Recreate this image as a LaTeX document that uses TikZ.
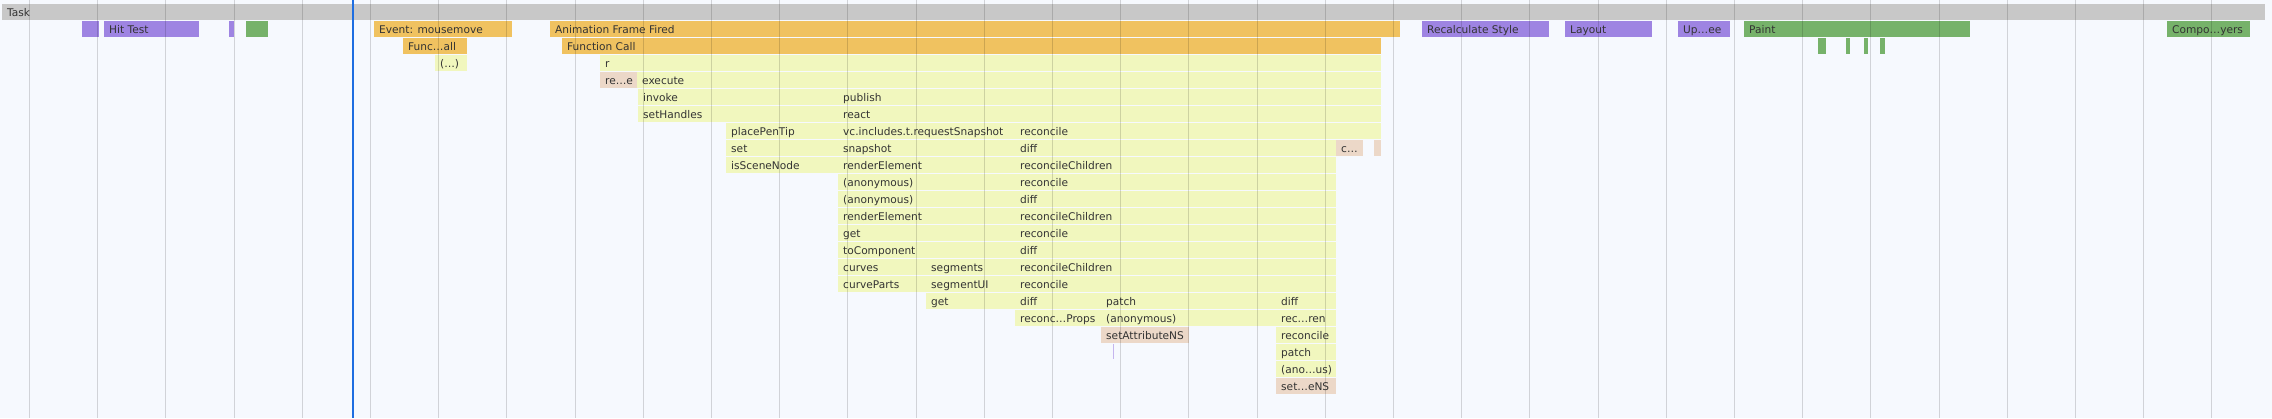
\documentclass[tikz,border=0pt]{standalone}
\usepackage{fontspec}
\setmainfont{DejaVu Sans}
\definecolor{chartbg}{RGB}{246,249,254}
\definecolor{taskgray}{RGB}{200,200,200}
\definecolor{renderpurple}{RGB}{158,132,226}
\definecolor{paintgreen}{RGB}{118,178,106}
\definecolor{scriptorange}{RGB}{240,194,96}
\definecolor{jsyellow}{RGB}{241,247,190}
\definecolor{nativepink}{RGB}{236,216,200}
\definecolor{cursorblue}{RGB}{30,110,225}
\definecolor{labelgray}{RGB}{51,51,51}
\begin{document}
\begin{tikzpicture}[x=1pt, y=-1pt,
    taskbar/.style={fill=taskgray},
    purplebar/.style={fill=renderpurple},
    greenbar/.style={fill=paintgreen},
    orangebar/.style={fill=scriptorange},
    jsbar/.style={fill=jsyellow},
    pinkbar/.style={fill=nativepink},
    lbl/.style={anchor=base west, inner sep=0pt, text=labelgray, font=\fontsize{10.6}{12}\selectfont}]
    \useasboundingbox (0,0) rectangle (2272,418);
    \fill[chartbg] (0,0) rectangle (2272,418);

    % Task row
    \fill[taskbar] (2,4) rectangle (2265,20);
    \node[lbl] (task) at (7,16) {Task};

    % Row 1 - events, style, layout, paint
    \fill[purplebar] (82,21) rectangle (99,37);
    \fill[purplebar] (104,21) rectangle (199,37);
    \node[lbl] (hittest) at (109,33) {Hit Test};
    \fill[purplebar] (229,21) rectangle (234,37);
    \fill[greenbar] (246,21) rectangle (268,37);
    \fill[orangebar] (374,21) rectangle (512,37);
    \node[lbl] (evmove) at (379,33) {Event: mousemove};
    \fill[orangebar] (550,21) rectangle (1400,37);
    \node[lbl] (aff) at (555,33) {Animation Frame Fired};
    \fill[purplebar] (1422,21) rectangle (1549,37);
    \node[lbl] (recalc) at (1427,33) {Recalculate Style};
    \fill[purplebar] (1565,21) rectangle (1652,37);
    \node[lbl] (layout) at (1570,33) {Layout};
    \fill[purplebar] (1678,21) rectangle (1730,37);
    \node[lbl] (uptree) at (1683,33) {Up…ee};
    \fill[greenbar] (1744,21) rectangle (1970,37);
    \node[lbl] (paint) at (1749,33) {Paint};
    \fill[greenbar] (2167,21) rectangle (2250,37);
    \node[lbl] (compo) at (2172,33) {Compo…yers};

    % Row 2
    \fill[orangebar] (403,38) rectangle (467,54);
    \node[lbl] (funcall) at (408,50) {Func…all};
    \fill[orangebar] (562,38) rectangle (1381,54);
    \node[lbl] (fcall) at (567,50) {Function Call};
    \fill[greenbar] (1818,38) rectangle (1825.5,54);
    \fill[greenbar] (1846,38) rectangle (1850,54);
    \fill[greenbar] (1864,38) rectangle (1868,54);
    \fill[greenbar] (1880,38) rectangle (1885,54);

    % Rows 3 to 6
    \fill[jsbar] (435,55) rectangle (467,71);
    \node[lbl] (dots) at (440,67) {(…)};
    \fill[jsbar] (600,55) rectangle (1381,71);
    \node[lbl] (r) at (605,67) {r};
    \fill[pinkbar] (600,72) rectangle (637,88);
    \node[lbl] (ree) at (605,84) {re…e};
    \fill[jsbar] (637,72) rectangle (1381,88);
    \node[lbl] (execute) at (642,84) {execute};
    \fill[jsbar] (638,89) rectangle (1381,105);
    \node[lbl] (invoke) at (643,101) {invoke};
    \node[lbl] (publish) at (843,101) {publish};
    \fill[jsbar] (638,106) rectangle (1381,122);
    \node[lbl] (sethandles) at (643,118) {setHandles};
    \node[lbl] (react) at (843,118) {react};

    % Rows 7 to 9
    \fill[jsbar] (726,123) rectangle (1381,139);
    \node[lbl] (placepentip) at (731,135) {placePenTip};
    \node[lbl] (vcincludes) at (843,135) {vc.includes.t.requestSnapshot};
    \node[lbl] (reconcileA) at (1020,135) {reconcile};
    \fill[jsbar] (726,140) rectangle (1336,156);
    \node[lbl] (set) at (731,152) {set};
    \node[lbl] (snapshot) at (843,152) {snapshot};
    \node[lbl] (diffA) at (1020,152) {diff};
    \fill[pinkbar] (1336,140) rectangle (1363,156);
    \node[lbl] (cdots) at (1341,152) {c…};
    \fill[pinkbar] (1374,140) rectangle (1381,156);
    \fill[jsbar] (726,157) rectangle (1336,173);
    \node[lbl] (isscenenode) at (731,169) {isSceneNode};
    \node[lbl] (renderelA) at (843,169) {renderElement};
    \node[lbl] (reconchA) at (1020,169) {reconcileChildren};

    % Rows 10 to 16
    \fill[jsbar] (838,174) rectangle (1336,292);
    \node[lbl] (anonA) at (843,186) {(anonymous)};
    \node[lbl] (reconcileB) at (1020,186) {reconcile};
    \node[lbl] (anonB) at (843,203) {(anonymous)};
    \node[lbl] (diffB) at (1020,203) {diff};
    \node[lbl] (renderelB) at (843,220) {renderElement};
    \node[lbl] (reconchB) at (1020,220) {reconcileChildren};
    \node[lbl] (getA) at (843,237) {get};
    \node[lbl] (reconcileC) at (1020,237) {reconcile};
    \node[lbl] (tocomponent) at (843,254) {toComponent};
    \node[lbl] (diffC) at (1020,254) {diff};
    \node[lbl] (curves) at (843,271) {curves};
    \node[lbl] (segments) at (931,271) {segments};
    \node[lbl] (reconchC) at (1020,271) {reconcileChildren};
    \node[lbl] (curveparts) at (843,288) {curveParts};
    \node[lbl] (segmentui) at (931,288) {segmentUI};
    \node[lbl] (reconcileD) at (1020,288) {reconcile};
    \foreach \rowtop in {190,207,224,241,258,275}
        \fill[chartbg] (838,\rowtop) rectangle (1336,\rowtop+1);

    % Rows 17 to 22
    \fill[jsbar] (926,293) rectangle (1336,309);
    \node[lbl] (getB) at (931,305) {get};
    \node[lbl] (diffD) at (1020,305) {diff};
    \node[lbl] (patchA) at (1106,305) {patch};
    \node[lbl] (diffE) at (1281,305) {diff};
    \fill[jsbar] (1015,310) rectangle (1336,326);
    \node[lbl] (reconprops) at (1020,322) {reconc…Props};
    \node[lbl] (anonC) at (1106,322) {(anonymous)};
    \node[lbl] (recren) at (1281,322) {rec…ren};
    \fill[pinkbar] (1101,327) rectangle (1189,343);
    \node[lbl] (setattr) at (1106,339) {setAttributeNS};
    \draw[renderpurple!60, line width=1pt] (1113,344) -- (1113,359);
    \fill[jsbar] (1276,327) rectangle (1336,377);
    \node[lbl] (reconcileE) at (1281,339) {reconcile};
    \node[lbl] (patchB) at (1281,356) {patch};
    \node[lbl] (anonD) at (1281,373) {(ano…us)};
    \fill[chartbg] (1276,343) rectangle (1336,344);
    \fill[chartbg] (1276,360) rectangle (1336,361);
    \fill[pinkbar] (1276,378) rectangle (1336,394);
    \node[lbl] (setens) at (1281,390) {set…eNS};

    % Time grid and cursor
    \foreach \gx in {0,...,32}
        \draw[black, opacity=0.15, line width=1pt] (29.5+68.2*\gx,0) -- (29.5+68.2*\gx,418);
    \draw[cursorblue, line width=2pt] (352.7,0) -- (352.7,418);
\end{tikzpicture}
\end{document}
